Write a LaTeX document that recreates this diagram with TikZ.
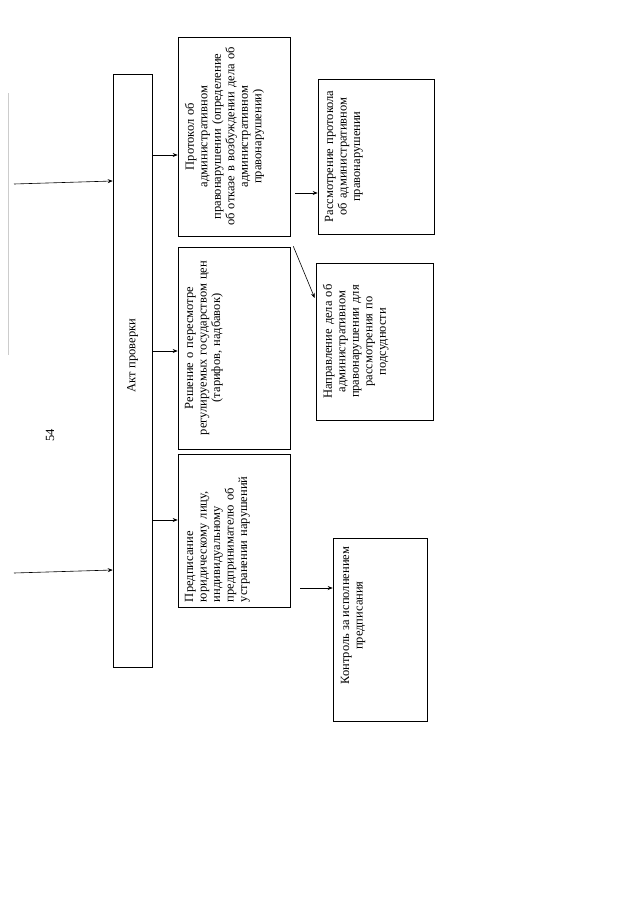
\documentclass[tikz,border=0pt]{standalone}
\usepackage{fontspec}
\setmainfont{Liberation Serif}
\usetikzlibrary{arrows.meta}
\usetikzlibrary{calc}
\newcommand{\BoxText}[3]{\node[boxtext, #2](#1-txt) at ($(#1.west)+(7,0)$) {#3};}

\begin{document}
\begin{tikzpicture}[
    x=1pt, y=-1pt,
    >={Stealth[length=5pt,width=4pt]},
    line width=0.6pt,
    box/.style={draw, inner sep=0pt},
    boxtext/.style={rotate=90, anchor=north, inner sep=0pt, align=center,
      font=\fontsize{12.5}{13.5}\selectfont},
    ]
    \useasboundingbox (0,0) rectangle (640,905);

    \draw[gray!40, line width=0.5pt] (8,93) -- (8,355);
    \node[rotate=90, font=\fontsize{12.5}{13.5}\selectfont] (pagenum) at (50,435) {54};

    % boxes
    \node[box, minimum width=39pt,  minimum height=593pt] (akt)      at (132.5,370.5) {};
    \node[box, minimum width=112pt, minimum height=199pt] (protokol) at (234,136.5) {};
    \node[box, minimum width=112pt, minimum height=202pt] (reshenie) at (234,348) {};
    \node[box, minimum width=112pt, minimum height=153pt] (predpis)  at (234,530.5) {};
    \node[box, minimum width=116pt, minimum height=155pt] (rassm)    at (376,156.5) {};
    \node[box, minimum width=117pt, minimum height=157pt] (napr)     at (374.5,341.5) {};
    \node[box, minimum width=94pt,  minimum height=183pt] (kontrol)  at (380,629.5) {};

    % texts
    \node[boxtext, anchor=center] (akt-txt) at ($(akt.center)+(0,-15)$) {Акт проверки};
    \BoxText{protokol}{text width=192pt}{Протокол об\\административном\\правонарушении (определение\\об отказе в возбуждении дела об\\административном\\правонарушении)}
    \BoxText{reshenie}{text width=194pt}{Решение о пересмотре\\регулируемых государством цен\\(тарифов, надбавок)}
    \BoxText{predpis}{text width=143pt, align=left}{Предписание\\юридическому лицу,\\индивидуальному\\предпринимателю об\\устранении нарушений}
    \BoxText{rassm}{text width=148pt}{Рассмотрение протокола\\об административном\\правонарушении}
    \BoxText{napr}{text width=150pt}{Направление дела об\\административном\\правонарушении для\\рассмотрения по\\подсудности}
    \node[boxtext] (kontrol-txt) at ($(kontrol.west)+(8,-14)$) {Контроль за исполнением\\предписания};

    % connectors
    \coordinate (in1) at (14,184);
    \coordinate (in2) at (14,573);
    \coordinate (a1) at ($(protokol.west)+(0,18.5)$);
    \coordinate (a2) at ($(reshenie.west)+(0,3)$);
    \coordinate (a3) at ($(predpis.west)+(0,-10.5)$);
    \coordinate (b1) at ($(protokol.east)+(5,56.5)$);
    \coordinate (b2) at ($(protokol.south east)+(3,10)$);
    \coordinate (b3) at ($(predpis.east)+(10,57.5)$);

    \path[->]
    (in1) edge ($(in1 -| akt.west)+(0,-3)$)
    (in2) edge ($(in2 -| akt.west)+(0,-3)$)
    (a1 -| akt.east) edge (a1)
    (a2 -| akt.east) edge (a2)
    (a3 -| akt.east) edge (a3)
    (b1) edge (b1 -| rassm.west)
    (b2) edge ($(napr.west)+(-1,-43.5)$)
    (b3) edge (b3 -| kontrol.west);

\end{tikzpicture}
\end{document}
